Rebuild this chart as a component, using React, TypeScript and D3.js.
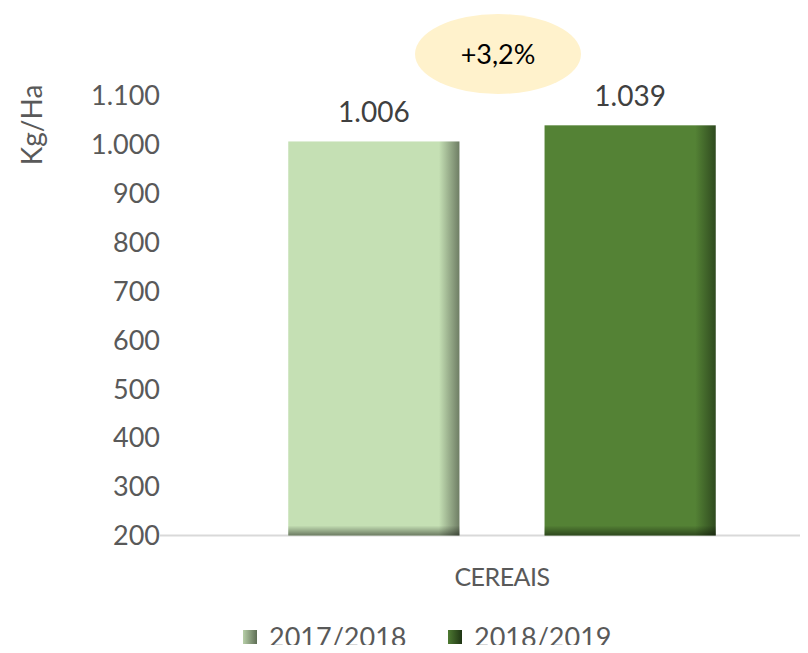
import React from "react";
import * as d3 from "d3";

const categories = ["CEREAIS"];
const seriesNames = ["2017/2018", "2018/2019"];
const seriesValues = [[1006], [1039]];
const valueLabels = [["1.006"], ["1.039"]];
const yTicks = [200, 300, 400, 500, 600, 700, 800, 900, 1000, 1100];
const changeLabel = "+3,2%";

const W = 808;
const H = 653;
const FONT = "Lato, 'Open Sans', sans-serif";
const baseColors = ["#C5E0B4", "#548235"];
const edgeColors = ["#6E7D64", "#2F4A1F"];

const fmt = (v: number) => d3.format(",")(v).replace(/,/g, ".");

export default function App() {
  const y = d3.scaleLinear().domain([200, 1100]).range([535.5, 95.5]);
  const x0 = d3.scaleBand<string>().domain(categories).range([160, 844]).paddingInner(0).paddingOuter(0.3);
  const x1 = d3
    .scaleBand<string>()
    .domain(seriesNames)
    .range([0, x0.bandwidth()])
    .paddingInner(0.332)
    .paddingOuter(0);

  const bars = seriesNames.flatMap((s, si) =>
    categories.map((c, ci) => ({
      s,
      si,
      c,
      v: seriesValues[si][ci],
      label: valueLabels[si][ci],
      x: (x0(c) ?? 0) + (x1(s) ?? 0),
    }))
  );

  return (
    <div style={{ margin: -8 }}>
      <svg width={W} height={H} style={{ display: "block", background: "#fff" }}>
        <defs>
          {baseColors.map((col, i) => (
            <linearGradient key={"h" + i} id={"hg" + i} x1="0" y1="0" x2="1" y2="0">
              <stop offset="0" stopColor={col} />
              <stop offset="0.88" stopColor={col} />
              <stop offset="1" stopColor={edgeColors[i]} />
            </linearGradient>
          ))}
          <linearGradient id="vshade" x1="0" y1="0" x2="0" y2="1">
            <stop offset="0" stopColor="#000" stopOpacity="0" />
            <stop offset="1" stopColor="#000" stopOpacity="0.45" />
          </linearGradient>
          {baseColors.map((col, i) => (
            <linearGradient key={"l" + i} id={"lg" + i} x1="0" y1="0" x2="1" y2="0">
              <stop offset="0" stopColor={i === 0 ? "#B7CFA8" : "#4E7A32"} />
              <stop offset="1" stopColor={i === 0 ? "#5E6E55" : "#1F3514"} />
            </linearGradient>
          ))}
        </defs>

        {/* baseline */}
        <line x1={160} x2={W} y1={y(200)} y2={y(200)} stroke="#D9D9D9" strokeWidth={2} />

        {/* bars */}
        {bars.map((b) => {
          const top = y(b.v);
          const bottom = y(200);
          const w = x1.bandwidth();
          return (
            <g key={b.s}>
              <rect x={b.x} y={top} width={w} height={bottom - top} fill={`url(#hg${b.si})`} />
              <rect x={b.x} y={bottom - 10} width={w} height={10} fill="url(#vshade)" />
              <text
                x={b.x + w / 2}
                y={top - 19}
                textAnchor="middle"
                fontFamily={FONT}
                fontSize={28}
                fill="#404040"
              >
                {b.label}
              </text>
            </g>
          );
        })}

        {/* y axis ticks */}
        {yTicks.map((t) => (
          <text
            key={t}
            x={160}
            y={y(t)}
            dy="0.36em"
            textAnchor="end"
            fontFamily={FONT}
            fontSize={27}
            fill="#595959"
          >
            {fmt(t)}
          </text>
        ))}

        {/* y axis title */}
        <text
          transform={`translate(42, ${125}) rotate(-90)`}
          textAnchor="middle"
          fontFamily={FONT}
          fontSize={28}
          fill="#595959"
        >
          Kg/Ha
        </text>

        {/* category label */}
        {categories.map((c) => (
          <text
            key={c}
            x={(x0(c) ?? 0) + x0.bandwidth() / 2}
            y={586}
            textAnchor="middle"
            fontFamily={FONT}
            fontSize={25}
            fill="#595959"
            style={{ letterSpacing: "-0.5px" }}
          >
            {c}
          </text>
        ))}

        {/* change bubble */}
        <ellipse cx={498} cy={54} rx={83} ry={40} fill="#FFF2CC" />
        <text x={498} y={54} dy="0.36em" textAnchor="middle" fontFamily={FONT} fontSize={27} fill="#000">
          {changeLabel}
        </text>

        {/* legend */}
        {seriesNames.map((s, i) => {
          const lx = i === 0 ? 243 : 448;
          return (
            <g key={s}>
              <rect x={lx} y={630} width={14} height={14} fill={`url(#lg${i})`} />
              <text x={lx + 26} y={637} dy="0.36em" fontFamily={FONT} fontSize={27} fill="#595959">
                {s}
              </text>
            </g>
          );
        })}
      </svg>
    </div>
  );
}
